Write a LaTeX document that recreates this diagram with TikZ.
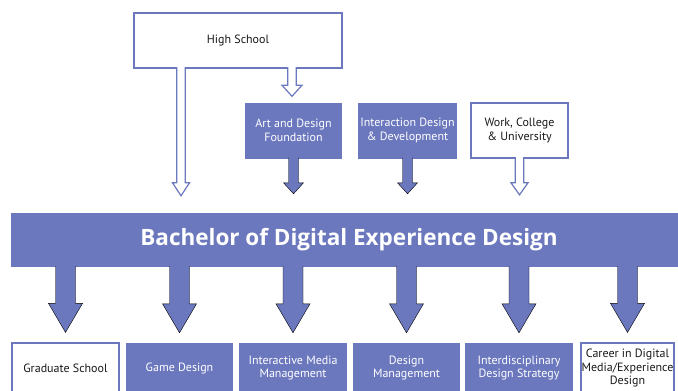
\documentclass[tikz,border=0pt]{standalone}
\usepackage{fontspec}
\setmainfont{PT Sans}
\newfontfamily\titlefont{Open Sans}
\usepackage{tikz}
\usetikzlibrary{calc,positioning}
\definecolor{dxdblue}{RGB}{107,120,190}
\newcommand\blockarr[6][]{%
\draw[#1] let \p1=(#2), \p2=(#3) in
 (\x1-#4,\y1) -- (\x1-#4,\y2+#6) -- (\x1-#5,\y2+#6) -- (\x1,\y2)
 -- (\x1+#5,\y2+#6) -- (\x1+#4,\y2+#6) -- (\x1+#4,\y1);}

\begin{document}
\begin{tikzpicture}[x=1pt,y=-1pt,
  lbl/.style={font=\fontsize{12}{13.5}\selectfont, align=center, inner sep=0pt},
  openbox/.style={lbl, draw=dxdblue, line width=1.2pt, fill=white, text=black!90},
  bluebox/.style={lbl, fill=dxdblue, text=white},
  openarr/.style={draw=dxdblue, line width=1.2pt, fill=white},
  bluearr/.style={fill=dxdblue}]
\fill[white] (0,0) rectangle (678,391);
\useasboundingbox (0,0) rectangle (678,391);
\node[openbox, minimum width=208pt, minimum height=55pt] (hs) at (238,40.5) {High School};
\node[bluebox, minimum width=97pt, minimum height=56pt] (art) at (293.5,130.5) {Art and Design\\Foundation};
\node[bluebox, minimum width=99pt, minimum height=56pt] (ixd) at (407.5,130.5) {Interaction Design\\\& Development};
\node[openbox, minimum width=97pt, minimum height=55pt] (work) at (519.5,130.5) {Work, College\\\& University};
\node[fill=dxdblue, text=white, minimum width=669pt, minimum height=54pt, font=\fontsize{22.5}{26}\titlefont\bfseries] (band) at (345.5,240) {\hspace{7pt}Bachelor of Digital Experience Design};
\node[openbox, minimum width=107pt, minimum height=50pt] (grad) at (65.5,368) {Graduate School};
\node[bluebox, minimum width=107pt, minimum height=50pt] (game) at (179.5,368) {Game Design};
\node[bluebox, minimum width=108pt, minimum height=50pt] (imm) at (293,368) {Interactive Media\\Management};
\node[bluebox, minimum width=107pt, minimum height=50pt] (dm) at (406.5,368) {Design\\Management};
\node[bluebox, minimum width=108pt, minimum height=50pt] (ids) at (519,368) {Interdisciplinary\\Design Strategy};
\node[openbox, minimum width=93pt, minimum height=50pt] (career) at (627.5,368) {Career in Digital\\Media/Experience\\Design};
\coordinate (hsdrop) at (181,0);
\blockarr[openarr]{$(hs.south -| hsdrop)+(0,-1.5)$}{$(band.north -| hsdrop)+(0,-17)$}{4.3pt}{8.5pt}{13pt}
\blockarr[openarr]{$(hs.south -| 292,0)+(0,-1.5)$}{$(art.north -| 292,0)+(0,-6)$}{4.3pt}{10pt}{11pt}
\blockarr[bluearr]{$(art.south)+(0,-1)$}{$(band.north -| art.south)+(0,-19)$}{5pt}{10pt}{11pt}
\blockarr[bluearr]{$(ixd.south)+(0,-1)$}{$(band.north -| ixd.south)+(0,-19)$}{5pt}{10pt}{11pt}
\blockarr[openarr]{$(work.south)+(0,-1.5)$}{$(band.north -| work.south)+(0,-18)$}{4.3pt}{8.5pt}{12pt}
\foreach \b in {grad,game,imm,dm,ids,career}
  \blockarr[bluearr]{$(band.south -| \b.north)+(0,-1)$}{$(\b.north)+(0,-10)$}{10pt}{17pt}{29pt};
\end{tikzpicture}
\end{document}
